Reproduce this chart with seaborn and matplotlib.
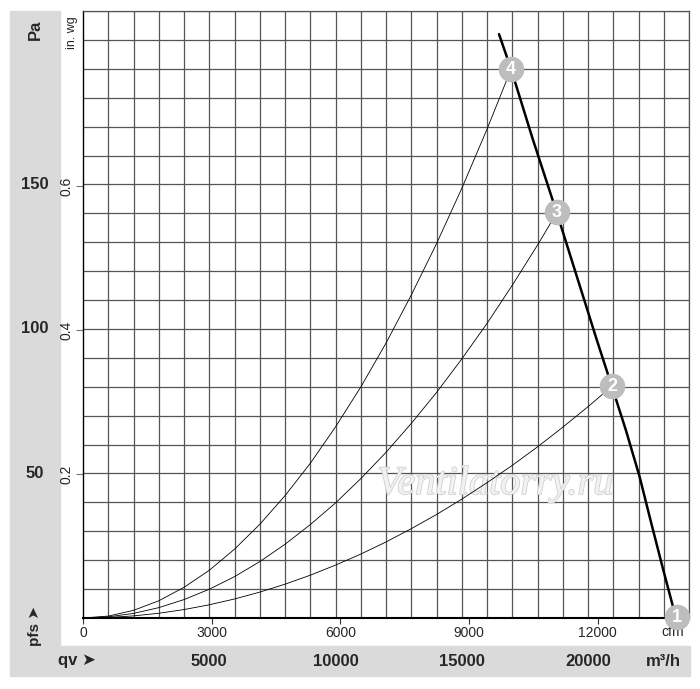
import seaborn as sns
import matplotlib.pyplot as plt
import matplotlib.patheffects as pe
from matplotlib.patches import Rectangle
from matplotlib.ticker import MultipleLocator

# fan curve: air flow qv in m3/h, static pressure pfs in Pa
fan_qv = [16475, 16950, 17800, 18772, 19600, 20356, 20950, 21500, 22040, 22500, 22970, 23485]
fan_pa = [202, 190, 166, 140, 117, 96, 80, 65, 49, 33, 17, 0]

# system curves running to operating points 2, 3 and 4
sys2_qv = [0, 1000, 2000, 3000, 4000, 5000, 6000, 7000, 8000, 9000, 10000, 11000,
           12000, 13000, 14000, 15000, 16000, 17000, 18000, 19000, 20000, 20950]
sys2_pa = [0, 0.18, 0.73, 1.64, 2.92, 4.57, 6.58, 8.95, 11.7, 14.8, 18.3, 22.1,
           26.3, 30.9, 35.8, 41.1, 46.8, 52.8, 59.2, 66.0, 73.1, 80.2]
sys3_qv = [0, 1000, 2000, 3000, 4000, 5000, 6000, 7000, 8000, 9000, 10000, 11000,
           12000, 13000, 14000, 15000, 16000, 17000, 18000, 18772]
sys3_pa = [0, 0.40, 1.59, 3.58, 6.37, 9.95, 14.3, 19.5, 25.5, 32.3, 39.8, 48.2,
           57.3, 67.3, 78.0, 89.6, 101.9, 115.1, 129.0, 140.3]
sys4_qv = [0, 1000, 2000, 3000, 4000, 5000, 6000, 7000, 8000, 9000, 10000, 11000,
           12000, 13000, 14000, 15000, 16000, 16950]
sys4_pa = [0, 0.66, 2.64, 5.95, 10.6, 16.5, 23.8, 32.4, 42.3, 53.5, 66.1, 79.9,
           95.1, 111.7, 129.5, 148.6, 169.1, 189.8]

# numbered operating points
pt_labels = ["1", "2", "3", "4"]
pt_qv = [23525, 20950, 18772, 16950]
pt_pa = [0.3, 80.2, 140.3, 189.8]

# axis labels
cfm_ticks = [0, 3000, 6000, 9000, 12000]
m3h_ticks = [5000, 10000, 15000, 20000]
pa_ticks = [50, 100, 150]
inwg_ticks = [0.2, 0.4, 0.6]

CFM = 1.699      # m3/h per cfm
INWG = 249.09    # Pa per in. wg

sns.set_theme(style="white")
plt.rcParams['font.family'] = ['Liberation Sans', 'DejaVu Sans']

W, H = 700, 689
fig = plt.figure(figsize=(W / 100, H / 100), dpi=100)
ax = fig.add_axes([83 / W, 71 / H, 606 / W, 607 / H])

# grey label bands (behind the axes and its texts)
band = '#dadada'
fig.patches.append(Rectangle((10 / W, 1 - 646 / H), 50 / W, 635 / H,
                             transform=fig.transFigure, color=band, zorder=-1))
fig.patches.append(Rectangle((10 / W, 1 - 676 / H), 680 / W, 30 / H,
                             transform=fig.transFigure, color=band, zorder=-1))

# curves
for qv, pa in [(sys2_qv, sys2_pa), (sys3_qv, sys3_pa), (sys4_qv, sys4_pa)]:
    sns.lineplot(x=qv, y=pa, ax=ax, color='black', lw=0.6, sort=False, zorder=3)
sns.lineplot(x=fan_qv, y=fan_pa, ax=ax, color='black', lw=1.8, sort=False, zorder=4)

ax.scatter(pt_qv, pt_pa, s=340, color='#bdbdbd', zorder=5, clip_on=False, linewidths=0)
for lab, q, p in zip(pt_labels, pt_qv, pt_pa):
    ax.text(q, p, lab, color='white', fontsize=13, fontweight='bold',
            ha='center', va='center', zorder=6, clip_on=False)

ax.set_xlim(0, 24000)
ax.set_ylim(0, 210)

# grid every 1000 m3/h and 10 Pa
ax.xaxis.set_minor_locator(MultipleLocator(1000))
ax.yaxis.set_minor_locator(MultipleLocator(10))
ax.grid(which='minor', color='#555555', lw=0.9)
ax.grid(which='major', visible=False)
ax.tick_params(which='minor', length=0)
ax.set_axisbelow(True)

# cfm ticks on the axis itself
ax.set_xticks([c * CFM for c in cfm_ticks])
ax.set_xticklabels([str(c) for c in cfm_ticks], fontsize=10)
ax.tick_params(axis='x', which='major', length=4, width=0.8, color='#333333',
               direction='out', pad=2, bottom=True)

# in. wg ticks on the left
ax.set_yticks([v * INWG for v in inwg_ticks])
ax.set_yticklabels([str(v) for v in inwg_ticks], fontsize=10, rotation=90, va='center')
ax.tick_params(axis='y', which='major', length=5, width=0.8, color='#777777',
               direction='out', pad=1.5, left=True)

for s in ['top', 'right']:
    ax.spines[s].set_color('#555555')
    ax.spines[s].set_linewidth(0.9)
ax.spines['left'].set_color('black')
ax.spines['left'].set_linewidth(1.0)
ax.spines['bottom'].set_color('black')
ax.spines['bottom'].set_linewidth(1.5)

# Pa labels in the grey band
ytr = ax.get_yaxis_transform()
for p in pa_ticks:
    ax.text(-0.079, p, str(p), transform=ytr, fontsize=12, fontweight='bold',
            ha='center', va='center')

# m3/h labels in the bottom band
xtr = ax.get_xaxis_transform()
for q in m3h_ticks:
    ax.text(q, -0.071, str(q), transform=xtr, fontsize=12, fontweight='bold',
            ha='center', va='center')

fig.text(35 / W, 1 - 30 / H, 'Pa', fontsize=12, fontweight='bold', rotation=90,
         ha='center', va='center')
fig.text(72 / W, 1 - 33 / H, 'in. wg', fontsize=9, rotation=90, ha='center', va='center')
fig.text(35 / W, 1 - 626 / H, 'pfs ➤', fontsize=11, fontweight='bold', rotation=90,
         ha='center', va='center')
fig.text(77 / W, 1 - 661 / H, 'qv ➤', fontsize=12, fontweight='bold',
         ha='center', va='center')
fig.text(663 / W, 1 - 661 / H, 'm³/h', fontsize=12, fontweight='bold',
         ha='center', va='center')
fig.text(673 / W, 1 - 632 / H, 'cfm', fontsize=10, ha='center', va='center', zorder=-1)

# watermark
ax.text(0.68, 0.22, 'Ventilatorry.ru', transform=ax.transAxes, fontsize=29,
        family='Liberation Serif', style='italic', color='#f2f2f2', ha='center',
        va='center', zorder=2,
        path_effects=[pe.withStroke(linewidth=1.2, foreground='#cfcfcf')])

fig.savefig('out.png', dpi=100)
